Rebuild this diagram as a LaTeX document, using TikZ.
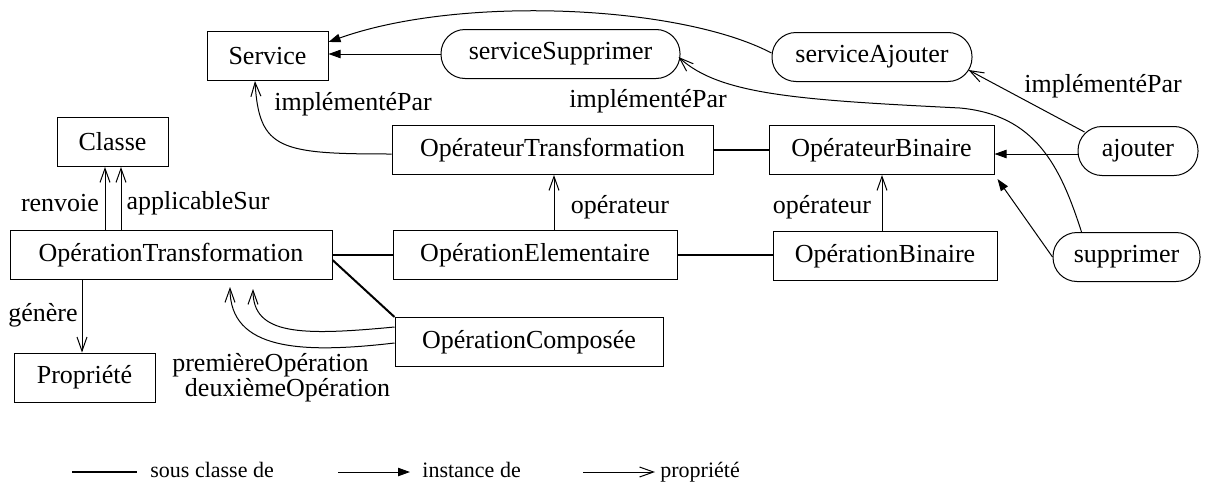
\documentclass[tikz,border=0pt]{standalone}
\usepackage{fontspec}
\setmainfont{Liberation Serif}
\newfontfamily\tnrfam{Liberation Serif}
\usetikzlibrary{arrows.meta,calc}
\begin{document}
\begin{tikzpicture}[x=0.5pt,y=-0.5pt,
  font=\tnrfam\fontsize{13}{15}\selectfont,
  box/.style={draw,line width=0.5pt,inner sep=0pt,minimum height=24.5pt},
  rbox/.style={box,rounded corners=12pt},
  lbl/.style={inner sep=0pt},
  leg/.style={inner sep=0pt,anchor=base west,font=\tnrfam\fontsize{11}{13}\selectfont},
  subline/.style={line width=1pt},
  instarrow/.style={line width=0.5pt,-{Triangle[length=6pt,width=4.2pt]}},
  proparrow/.style={line width=0.5pt,-{Straight Barb[length=7pt,width=5pt]}}]
\useasboundingbox (0,0) rectangle (1218,482);

% nodes
\node[box,minimum width=60.5pt] (service) at (267.5,56) {Service};
\node[rbox,minimum width=119.5pt] (sS) at (560.5,54) {serviceSupprimer};
\node[rbox,minimum width=100pt] (sA) at (872,57) {serviceAjouter};
\node[box,minimum width=55.5pt] (classe) at (112.5,142) {Classe};
\node[box,minimum width=160.5pt] (OT) at (552.5,150) {OpérateurTransformation};
\node[box,minimum width=112.5pt] (OB) at (881.5,150) {OpérateurBinaire};
\node[rbox,minimum width=60pt] (ajouter) at (1138,151) {ajouter};
\node[box,minimum width=161pt] (OpTr) at (171,255) {OpérationTransformation};
\node[box,minimum width=142pt] (OpEl) at (535,255) {OpérationElementaire};
\node[box,minimum width=112pt] (OpBi) at (885,256) {OpérationBinaire};
\node[rbox,minimum width=73.5pt] (supprimer) at (1126.5,257) {supprimer};
\node[box,minimum width=134pt] (OC) at (529,342) {OpérationComposée};
\node[box,minimum width=70.5pt] (propr) at (84.5,377.5) {Propriété};

% subclass lines
\draw[subline] (OT.east) -- (OB.west);
\draw[subline] (OpTr.east) -- (OpEl.west);
\draw[subline] (OpEl.east) -- (OpEl.east -| OpBi.west);
\draw[subline] ($(OpTr.east)+(0,5)$) -- (OC.north west);

% instance arrows
\draw[instarrow] (sS.west) -- (sS.west -| service.east);
\draw[instarrow] ($(sA.west)+(0,-4)$) .. controls (680,5) and (460,-5) .. ($(service.east)+(0,-14)$);
\coordinate (a5) at ([yshift=-1.5pt]ajouter.west);
\draw[instarrow] (a5) -- (a5 -| OB.east);
\draw[instarrow] (supprimer.west) -- ($(OB.south east)+(3,4)$);

% property arrows
\draw[proparrow] ($(ajouter.north west)+(7,6)$) -- ($(sA.east)+(-4,13)$);
\draw[proparrow] ($(supprimer.north west)+(29,0)$) .. controls (1060,165) and (1035,115) .. (960,108) .. controls (800,100) and (720,95) .. ($(sS.east)+(-2,3)$);
\draw[proparrow] ($(OT.west)+(0,4)$) .. controls (280,154) and (259,150) .. ($(service.south)+(-12.5,0)$);
\coordinate (a1) at ([xshift=9.5pt]OpEl.north);
\draw[proparrow] (a1) -- (a1 |- OT.south);
\coordinate (a2) at ([xshift=-1.5pt]OpBi.north);
\draw[proparrow] (a2) -- (a2 |- OB.south);
\coordinate (a3) at ([xshift=-33pt]OpTr.north);
\draw[proparrow] (a3) -- (a3 |- classe.south);
\coordinate (a4) at ([xshift=-25pt]OpTr.north);
\draw[proparrow] (a4) -- (a4 |- classe.south);
\coordinate (a6) at ([xshift=-44.5pt]OpTr.south);
\draw[proparrow] (a6) -- (a6 |- propr.north);
\draw[proparrow] ($(OC.west)+(0,-15)$) .. controls (300,336) and (253,335) .. ($(OpTr.south)+(82,9)$);
\draw[proparrow] ($(OC.west)+(0,1)$) .. controls (300,354) and (230,350) .. ($(OpTr.south)+(59,7)$);

% labels
\node[lbl] (l1) at (353,104) {implémentéPar};
\node[lbl] (l2) at (648,101) {implémentéPar};
\node[lbl] (l3) at (1103,86) {implémentéPar};
\node[lbl] (l4) at (620,207) {opérateur};
\node[lbl] (l5) at (822,207) {opérateur};
\node[lbl] (l6) at (60,203) {renvoie};
\node[lbl] (l7) at (198,203) {applicableSur};
\node[lbl] (l8) at (43,315) {génère};
\node[lbl] (l9) at (270.5,365) {premièreOpération};
\node[lbl] (l10) at (287.5,390) {deuxièmeOpération};

% legend
\coordinate (g1a) at (72,472);
\coordinate (g1b) at (137,472);
\draw[subline] (g1a) -- (g1b);
\node[leg] (g1t) at (150,477) {sous classe de};
\coordinate (g2a) at (338,472);
\coordinate (g2b) at (410,472);
\draw[instarrow] (g2a) -- (g2b);
\node[leg] (g2t) at (422,477) {instance de};
\coordinate (g3a) at (583,472);
\coordinate (g3b) at (655,472);
\draw[proparrow] (g3a) -- (g3b);
\node[leg] (g3t) at (660,477) {propriété};
\end{tikzpicture}
\end{document}
